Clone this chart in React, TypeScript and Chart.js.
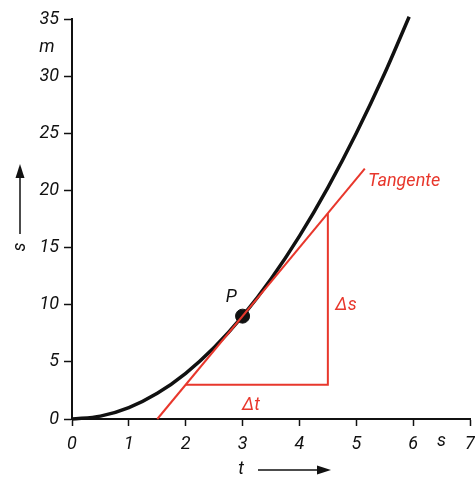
import React, { useEffect, useRef } from "react";
import { Chart, registerables } from "chart.js";

Chart.register(...registerables);

// Curve s(t)
const curveT = [0, 0.5, 1, 1.5, 2, 2.5, 3, 3.5, 4, 4.5, 5, 5.5, 5.93];
const curveS = [0, 0.25, 1, 2.25, 4, 6.25, 9, 12.25, 16, 20.25, 25, 30.25, 35.2];
// Tangent line through P
const tangentT = [1.5, 5.15];
const tangentS = [0, 21.9];
// Slope triangle
const triT = [2, 4.5, 4.5];
const triS = [3, 3, 18];
// Point P
const pointT = [3];
const pointS = [9];
// Ticks
const xTicks = [0, 1, 2, 3, 4, 5, 6, 7];
const yTicks = [0, 5, 10, 15, 20, 25, 30, 35];

const RED = "#e8372c";
const FONT = "Roboto";
const CANVAS_W = 478;

const toPts = (xs: number[], ys: number[]) => xs.map((x, i) => ({ x, y: ys[i] }));

const annot = {
  id: "annot",
  afterDraw(chart: any) {
    const ctx = chart.ctx;
    const xs = chart.scales.x;
    const ys = chart.scales.y;
    ctx.save();
    ctx.textBaseline = "middle";
    ctx.fillStyle = "#111";
    ctx.font = `italic 18px ${FONT}`;
    ctx.textAlign = "center";
    ctx.fillText("m", 47, ys.getPixelForValue(32.5));
    ctx.fillText("s", xs.getPixelForValue(6.5), 441);
    ctx.fillText("P", xs.getPixelForValue(2.8), ys.getPixelForValue(10.6));
    ctx.fillText("t", 241, 469);
    ctx.strokeStyle = "#111";
    ctx.fillStyle = "#111";
    ctx.lineWidth = 1.5;
    ctx.beginPath();
    ctx.moveTo(258, 470);
    ctx.lineTo(320, 470);
    ctx.stroke();
    ctx.beginPath();
    ctx.moveTo(331, 470);
    ctx.lineTo(317, 465.5);
    ctx.lineTo(317, 474.5);
    ctx.closePath();
    ctx.fill();
    ctx.save();
    ctx.translate(20, 247);
    ctx.rotate(-Math.PI / 2);
    ctx.fillText("s", 0, 0);
    ctx.restore();
    ctx.beginPath();
    ctx.moveTo(20, 234);
    ctx.lineTo(20, 175);
    ctx.stroke();
    ctx.beginPath();
    ctx.moveTo(20, 164);
    ctx.lineTo(15.5, 178);
    ctx.lineTo(24.5, 178);
    ctx.closePath();
    ctx.fill();
    ctx.fillStyle = RED;
    ctx.textAlign = "left";
    ctx.fillText("Tangente", 368, 181);
    ctx.textAlign = "center";
    ctx.fillText("\u0394s", 346, 305);
    ctx.fillText("\u0394t", 251, 405);
    ctx.restore();
  },
};

export default function App() {
  const ref = useRef<HTMLCanvasElement | null>(null);
  useEffect(() => {
    if (!ref.current) return;
    const chart = new Chart(ref.current, {
      type: "scatter",
      data: {
        datasets: [
          { data: toPts(tangentT, tangentS), showLine: true, borderColor: RED, borderWidth: 2, pointRadius: 0, clip: false } as any,
          { data: toPts(triT, triS), showLine: true, borderColor: RED, borderWidth: 2, pointRadius: 0, clip: false } as any,
          { data: toPts(curveT, curveS), showLine: true, borderColor: "#111", borderWidth: 3.5, pointRadius: 0, cubicInterpolationMode: "monotone", clip: false } as any,
          { data: toPts(pointT, pointS), showLine: false, pointRadius: 7, pointBackgroundColor: "#111", pointBorderColor: "#111", clip: false } as any,
        ],
      },
      options: {
        animation: false,
        responsive: false,
        layout: { padding: { top: 19, right: 0, left: 0, bottom: 0 } },
        plugins: { legend: { display: false }, tooltip: { enabled: false } },
        scales: {
          x: {
            type: "linear",
            min: 0,
            max: 7,
            afterFit: (s: any) => {
              s.height = 61;
              s.paddingLeft = 0;
              s.paddingRight = 0;
            },
            afterBuildTicks: (s: any) => {
              s.ticks = xTicks.map((v) => ({ value: v }));
            },
            border: { display: true, color: "#111", width: 2 },
            grid: { drawOnChartArea: false, drawTicks: true, tickLength: 7, color: "#111", tickWidth: 1.5 },
            ticks: { color: "#111", padding: 8, maxRotation: 0, font: { family: FONT, size: 18, style: "italic" }, callback: (v: any) => String(v) },
          },
          y: {
            type: "linear",
            min: 0,
            max: 35,
            afterFit: (s: any) => {
              s.width = 72;
              s.paddingTop = 0;
              s.paddingBottom = 0;
            },
            afterBuildTicks: (s: any) => {
              s.ticks = yTicks.map((v) => ({ value: v }));
            },
            border: { display: true, color: "#111", width: 2 },
            grid: { drawOnChartArea: false, drawTicks: true, tickLength: 8, color: "#111", tickWidth: 1.5 },
            ticks: { color: "#111", padding: 5, font: { family: FONT, size: 18, style: "italic" }, callback: (v: any) => String(v) },
          },
        },
      } as any,
      plugins: [annot],
    });
    return () => chart.destroy();
  }, []);
  return (
    <div style={{ position: "absolute", left: 0, top: 0, width: 475, height: 480, overflow: "hidden", background: "#fff" }}>
      <canvas ref={ref} width={CANVAS_W} height={480} style={{ width: CANVAS_W, height: 480, display: "block" }} />
    </div>
  );
}
